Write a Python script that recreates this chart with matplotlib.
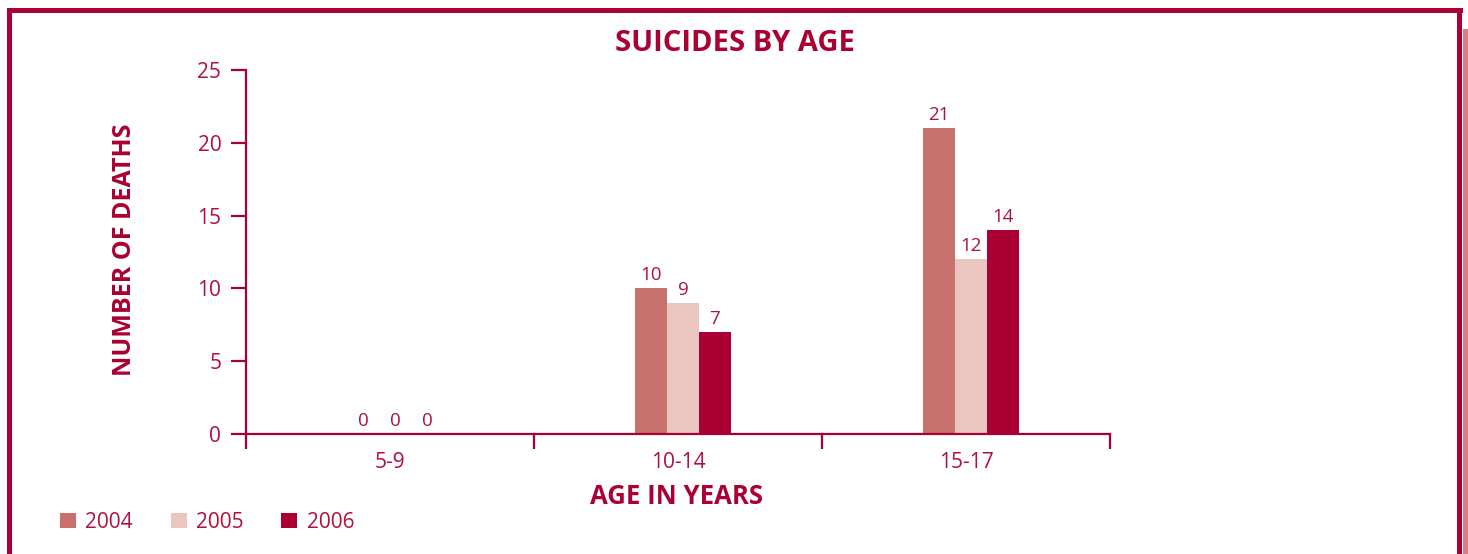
import matplotlib
matplotlib.use("Agg")
import matplotlib.pyplot as plt
import numpy as np
from matplotlib.patches import Rectangle, Patch

categories = ["5-9", "10-14", "15-17"]
years = ["2004", "2005", "2006"]
values_2004 = [0, 10, 21]
values_2005 = [0, 9, 12]
values_2006 = [0, 7, 14]
yticks = [0, 5, 10, 15, 20, 25]

DARK = "#AA0033"
TXT = "#B0103F"
colors = ["#C8706B", "#EBC6C1", "#AA0033"]

plt.rcParams['font.family'] = ['Open Sans', 'DejaVu Sans']

W, H = 1468, 554
fig = plt.figure(figsize=(W / 100, H / 100), dpi=100)
fig.patch.set_facecolor("white")

def px(x0, y0, w, h, color):
    fig.patches.append(Rectangle((x0 / W, 1 - (y0 + h) / H), w / W, h / H,
                                 transform=fig.transFigure, color=color, lw=0, zorder=0))

# frame
px(7, 8, 1456, 5, DARK)
px(7, 8, 5, H - 8, DARK)
px(1457, 8, 5, H - 8, DARK)
px(1463, 29, 5, H - 29, "#D98080")

ax = fig.add_axes([246 / W, 1 - 434 / H, (1110 - 246) / W, (434 - 70) / H])
ax.set_facecolor("none")

x = np.arange(len(categories))
bw = 32 / 288
offset = 5 / 288
series = [values_2004, values_2005, values_2006]
for i, (vals, c) in enumerate(zip(series, colors)):
    bars = ax.bar(x + offset + (i - 1) * bw, vals, width=bw, color=c, lw=0, zorder=2)
    ax.bar_label(bars, labels=[str(v) for v in vals], padding=3, color=TXT, fontsize=13.5)

ax.set_xlim(-0.5, 2.5)
ax.set_ylim(0, 25)
ax.set_yticks(yticks)
ax.set_yticklabels([str(t) for t in yticks])
ax.set_xticks([-0.5, 0.5, 1.5, 2.5])
ax.set_xticklabels([])
ax.set_xticks(x, minor=True)
ax.set_xticklabels(categories, minor=True)

for s in ["top", "right"]:
    ax.spines[s].set_visible(False)
for s in ["left", "bottom"]:
    ax.spines[s].set_color(DARK)
    ax.spines[s].set_linewidth(1.6)

ax.tick_params(axis="both", which="major", direction="out", length=10.8, width=1.6,
               color=DARK, labelcolor=TXT, labelsize=15)
ax.tick_params(axis="y", pad=7)
ax.tick_params(axis="x", which="minor", length=0, pad=13, labelcolor=TXT, labelsize=15)

fig.text(735 / W, 1 - 43.5 / H, "SUICIDES BY AGE", ha="center", va="center",
         fontsize=21, fontweight="bold", color=DARK)
fig.text(125 / W, 1 - 250 / H, "NUMBER OF DEATHS", ha="center", va="center",
         rotation=90, fontsize=18, fontweight="bold", color=DARK)
fig.text(676 / W, 1 - 497 / H, "AGE IN YEARS", ha="center", va="center",
         fontsize=18.5, fontweight="bold", color=DARK)

handles = [Patch(facecolor=c, edgecolor="none") for c in colors]
leg = fig.legend(handles, years, loc="center left", bbox_to_anchor=(60 / W, 1 - 522 / H),
                 ncol=3, frameon=False, fontsize=15, handlelength=0.77, handleheight=0.72,
                 handletextpad=0.45, columnspacing=1.8, borderaxespad=0, borderpad=0)
for t in leg.get_texts():
    t.set_color(TXT)

fig.savefig("out.png", dpi=100, facecolor="white")
